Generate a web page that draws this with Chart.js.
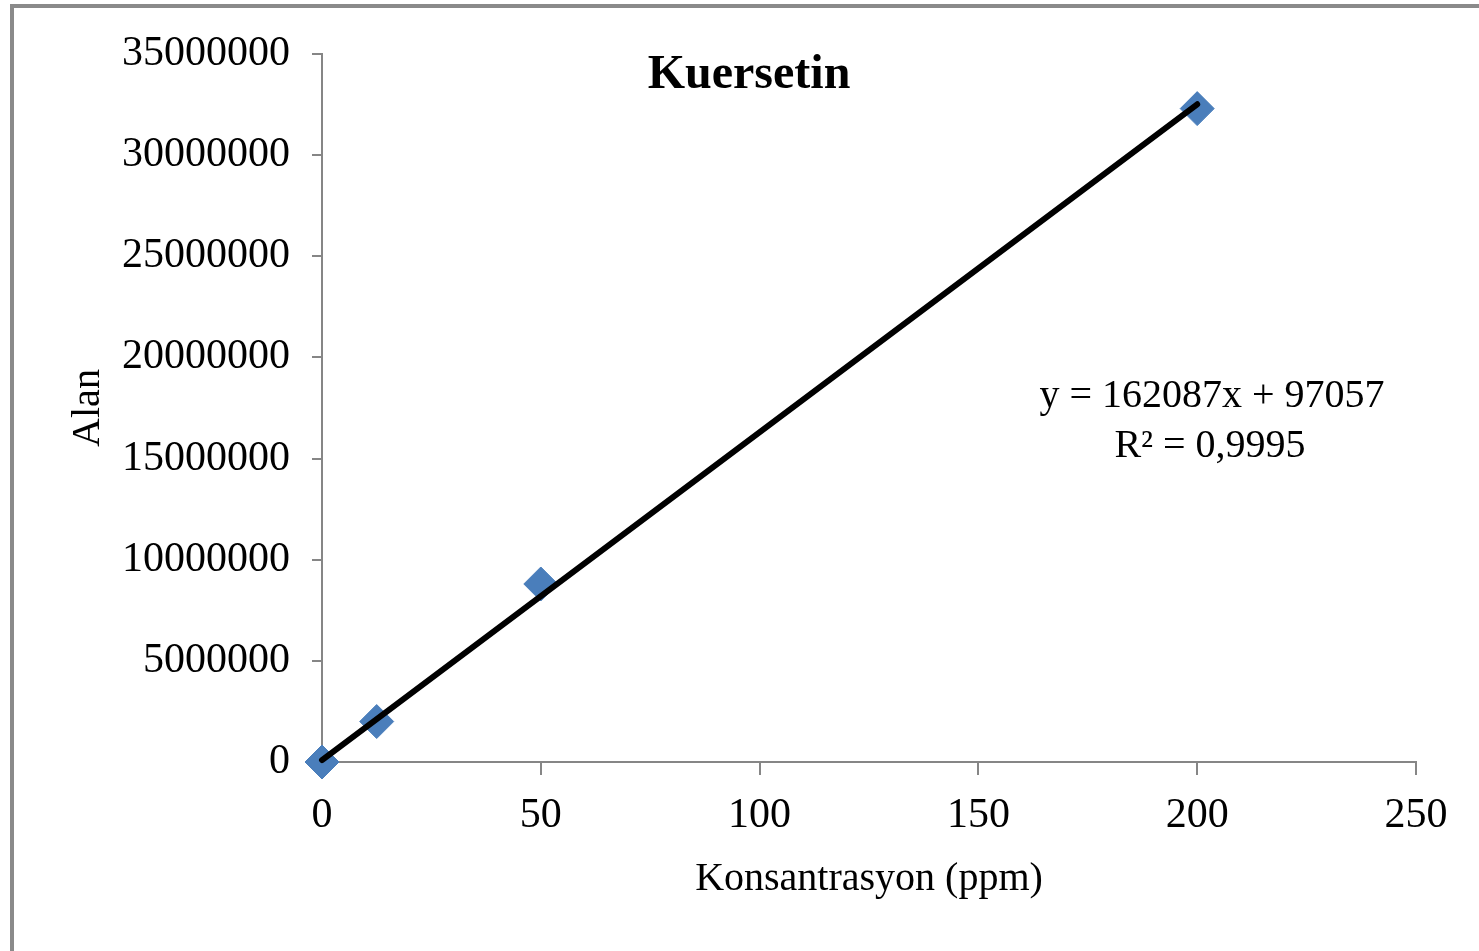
<!DOCTYPE html>
<html>
<head>
<meta charset="utf-8">
<script src="https://cdn.jsdelivr.net/npm/chart.js@4/dist/chart.umd.min.js"></script>
<style>
  html, body { margin: 0; padding: 0; background: #fff; }
  #wrap { position: relative; width: 1479px; height: 951px; }
  #frame { position: absolute; left: 10px; top: 4px; right: 0; bottom: 0;
           border-top: 4px solid #8a8a8a; border-left: 4px solid #8a8a8a; pointer-events: none; }
  canvas { position: absolute; left: 0; top: 0; }
</style>
</head>
<body>
<div id="wrap">
  <canvas id="c" width="1479" height="951"></canvas>
  <div id="frame"></div>
</div>
<script>
// ---- data ----
const concentrations = [0, 12.5, 50, 200];          // ppm
const areas = [0, 2000000, 8800000, 32300000];      // Alan
const trendSlope = 162087;
const trendIntercept = 97057;
const trendRange = [0, 200];
const yTicks = [0, 5000000, 10000000, 15000000, 20000000, 25000000, 30000000, 35000000];
const xTicks = [0, 50, 100, 150, 200, 250];
const chartTitle = 'Kuersetin';
const xTitle = 'Konsantrasyon (ppm)';
const yTitle = 'Alan';
const eqLine1 = 'y = 162087x + 97057';
const eqLine2 = 'R\u00B2 = 0,9995';

const points = concentrations.map((x, i) => ({ x: x, y: areas[i] }));
const trendPoints = trendRange.map(x => ({ x: x, y: trendSlope * x + trendIntercept }));

const serif = '"Liberation Serif", "Times New Roman", serif';
const axisGrey = '#868686';

const overlayText = {
  id: 'overlayText',
  afterDraw(chart) {
    const ctx = chart.ctx;
    ctx.save();
    ctx.fillStyle = '#000';
    ctx.textAlign = 'center';
    ctx.textBaseline = 'alphabetic';
    ctx.font = 'bold 48px ' + serif;
    ctx.fillText(chartTitle, 749, 88);
    ctx.font = '40px ' + serif;
    ctx.fillText(eqLine1, 1212, 407);
    ctx.fillText(eqLine2, 1210, 457);
    ctx.restore();
  }
};

new Chart(document.getElementById('c'), {
  type: 'scatter',
  data: {
    datasets: [
      {
        type: 'line',
        label: 'trend',
        data: trendPoints,
        borderColor: '#000',
        borderWidth: 6,
        borderCapStyle: 'round',
        pointRadius: 0,
        fill: false,
        clip: false,
        order: 0
      },
      {
        label: 'Kuersetin',
        data: points,
        pointStyle: 'rectRot',
        pointRadius: 17,
        pointBackgroundColor: '#4a7ebb',
        pointBorderColor: '#4a7ebb',
        pointBorderWidth: 1,
        clip: false,
        order: 1
      }
    ]
  },
  plugins: [overlayText],
  options: {
    responsive: false,
    animation: false,
    devicePixelRatio: 1,
    layout: { padding: { top: 54, left: 20, right: 63, bottom: 0 } },
    plugins: { legend: { display: false }, title: { display: false }, tooltip: { enabled: false } },
    scales: {
      x: {
        type: 'linear',
        min: 0, max: 250,
        afterBuildTicks: s => { s.ticks = xTicks.map(v => ({ value: v })); },
        afterFit: s => { s.height = 189; },
        ticks: {
          color: '#000',
          font: { family: serif, size: 42 },
          padding: 16,
          maxRotation: 0,
          callback: v => String(v)
        },
        grid: { drawOnChartArea: false, drawTicks: true, tickLength: 13, color: axisGrey, lineWidth: 2 },
        border: { display: true, color: axisGrey, width: 2 },
        title: {
          display: true, text: xTitle, color: '#000',
          font: { family: serif, size: 40 },
          padding: { top: 0, bottom: 48 }
        }
      },
      y: {
        type: 'linear',
        min: 0, max: 35000000,
        afterBuildTicks: s => { s.ticks = yTicks.map(v => ({ value: v })); },
        afterFit: s => { s.width = 302; },
        ticks: {
          color: '#000',
          font: { family: serif, size: 42 },
          padding: 22,
          callback: v => String(v)
        },
        grid: { drawOnChartArea: false, drawTicks: true, tickLength: 10, color: axisGrey, lineWidth: 2 },
        border: { display: true, color: axisGrey, width: 2 },
        title: {
          display: true, text: yTitle, color: '#000',
          font: { family: serif, size: 40 },
          padding: { top: 44, bottom: 0 }
        }
      }
    }
  }
});
</script>
</body>
</html>
